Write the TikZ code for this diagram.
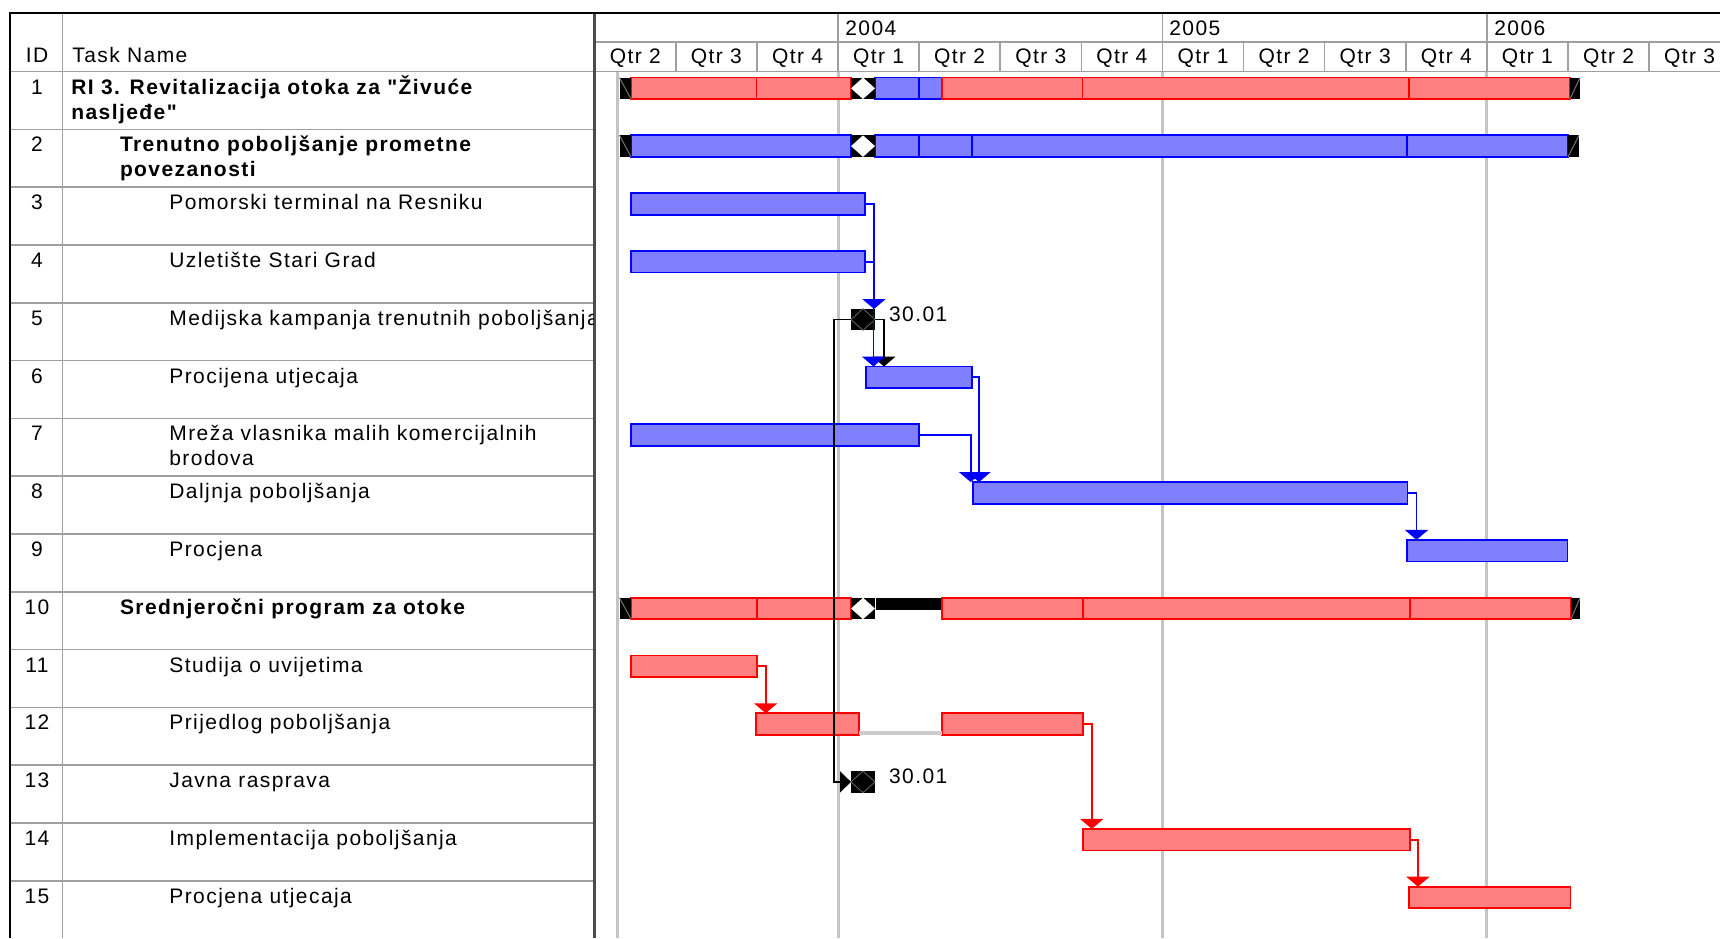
\documentclass[tikz,border=0pt]{standalone}
\usepackage{fontspec}
\setmainfont{Liberation Sans}[LetterSpace=6.8,Ligatures=TeXOff]
\usetikzlibrary{arrows.meta,calc}
\definecolor{barblue}{RGB}{0,0,255}
\definecolor{barbluefill}{RGB}{128,128,255}
\definecolor{barred}{RGB}{255,0,0}
\definecolor{barredfill}{RGB}{255,128,128}
\definecolor{gridgray}{RGB}{196,196,196}
\definecolor{rulegray}{RGB}{160,160,160}
\begin{document}
\begin{tikzpicture}[x=0.5pt,y=-0.5pt,
    txt/.style={anchor=base west,inner sep=0pt,font=\fontsize{10.5}{12}\selectfont},
    num/.style={anchor=base,inner sep=0pt,font=\fontsize{10.5}{12}\selectfont},
    wd/.style={minimum width=#1*0.5pt},
    bar/.style={line width=0.9pt,minimum height=10.75pt,inner sep=0pt,outer sep=0pt,anchor=west},
    bluebar/.style={bar,draw=barblue,fill=barbluefill},
    redbar/.style={bar,draw=barred,fill=barredfill},
    capbox/.style={fill=black,minimum height=10.75pt,inner sep=0pt,outer sep=0pt,anchor=west},
    mile/.style={fill=black,minimum width=12pt,minimum height=10.75pt,inner sep=0pt,outer sep=0pt},
    link/.style={line width=0.9pt,-{Triangle[width=11.5pt,length=5pt]}},
    bluelink/.style={link,barblue},
    redlink/.style={link,barred},
    blacklink/.style={line width=0.75pt,black,-{Triangle[width=11.5pt,length=5pt]}},
    gridline/.style={line width=1.5pt,gridgray},
    rule/.style={line width=0.8pt,rulegray}]
  \fill[white] (0,0) rectangle (1720,938);
  \useasboundingbox (0,0) rectangle (1720,938);

  % time scale grid
  \draw[gridline] (617.5,71.5) -- (617.5,938);
  \draw[gridline] (838,71.5) -- (838,938);
  \draw[gridline] (1162.4,71.5) -- (1162.4,938);
  \draw[gridline] (1486.8,71.5) -- (1486.8,938);

  % table rules
  \draw[rule] (10,71.5) -- (1720,71.5);
  \draw[rule] (594.5,42) -- (1720,42);
  \draw[rule] (10,129.3) -- (594.5,129.3);
  \draw[rule] (10,187.1) -- (594.5,187.1);
  \draw[rule] (10,244.9) -- (594.5,244.9);
  \draw[rule] (10,302.7) -- (594.5,302.7);
  \draw[rule] (10,360.5) -- (594.5,360.5);
  \draw[rule] (10,418.3) -- (594.5,418.3);
  \draw[rule] (10,476.1) -- (594.5,476.1);
  \draw[rule] (10,533.9) -- (594.5,533.9);
  \draw[rule] (10,591.7) -- (594.5,591.7);
  \draw[rule] (10,649.5) -- (594.5,649.5);
  \draw[rule] (10,707.3) -- (594.5,707.3);
  \draw[rule] (10,765.1) -- (594.5,765.1);
  \draw[rule] (10,822.9) -- (594.5,822.9);
  \draw[rule] (10,880.7) -- (594.5,880.7);
  \draw[rule] (62.5,13) -- (62.5,938);
  \draw[rule] (838,13) -- (838,71.5);
  \draw[rule] (1162.4,13) -- (1162.4,71.5);
  \draw[rule] (1486.8,13) -- (1486.8,71.5);
  \draw[rule] (675.8,42) -- (675.8,71.5);
  \draw[rule] (756.9,42) -- (756.9,71.5);
  \draw[rule] (919.1,42) -- (919.1,71.5);
  \draw[rule] (1000.2,42) -- (1000.2,71.5);
  \draw[rule] (1081.3,42) -- (1081.3,71.5);
  \draw[rule] (1243.5,42) -- (1243.5,71.5);
  \draw[rule] (1324.6,42) -- (1324.6,71.5);
  \draw[rule] (1405.7,42) -- (1405.7,71.5);
  \draw[rule] (1567.9,42) -- (1567.9,71.5);
  \draw[rule] (1649,42) -- (1649,71.5);
  \draw[line width=1.2pt,black!70] (594.5,13) -- (594.5,938);
  \draw[line width=1.3pt] (10,938) -- (10,13) -- (1720,13);

  % header
  \node[num] (hid) at (37,62) {ID};
  \node[txt] (hname) at (72,62) {Task Name};
  \node[txt] (y2004) at (845,35) {2004};
  \node[txt] (y2005) at (1169,35) {2005};
  \node[txt] (y2006) at (1494,35) {2006};
  \node[num] (q1) at (635.3,63) {Qtr 2};
  \node[num] (q2) at (716.4,63) {Qtr 3};
  \node[num] (q3) at (797.5,63) {Qtr 4};
  \node[num] (q4) at (878.6,63) {Qtr 1};
  \node[num] (q5) at (959.7,63) {Qtr 2};
  \node[num] (q6) at (1040.8,63) {Qtr 3};
  \node[num] (q7) at (1121.9,63) {Qtr 4};
  \node[num] (q8) at (1203,63) {Qtr 1};
  \node[num] (q9) at (1284.1,63) {Qtr 2};
  \node[num] (q10) at (1365.2,63) {Qtr 3};
  \node[num] (q11) at (1446.3,63) {Qtr 4};
  \node[num] (q12) at (1527.4,63) {Qtr 1};
  \node[num] (q13) at (1608.5,63) {Qtr 2};
  \node[num] (q14) at (1689.6,63) {Qtr 3};

  % task table
  \begin{scope}
    \clip (10,71.5) rectangle (593,938);
    \node[num] (i1) at (37,94) {1};
    \node[num] (i2) at (37,151.8) {2};
    \node[num] (i3) at (37,209.6) {3};
    \node[num] (i4) at (37,267.4) {4};
    \node[num] (i5) at (37,325.2) {5};
    \node[num] (i6) at (37,383) {6};
    \node[num] (i7) at (37,440.8) {7};
    \node[num] (i8) at (37,498.6) {8};
    \node[num] (i9) at (37,556.4) {9};
    \node[num] (i10) at (37,614.2) {10};
    \node[num] (i11) at (37,672) {11};
    \node[num] (i12) at (37,729.8) {12};
    \node[num] (i13) at (37,787.6) {13};
    \node[num] (i14) at (37,845.4) {14};
    \node[num] (i15) at (37,903.2) {15};
    \node[txt,font=\fontsize{10.5}{12}\selectfont\bfseries] (t1) at (71,94) {RI 3. Revitalizacija otoka za "Živuće};
    \node[txt,font=\fontsize{10.5}{12}\selectfont\bfseries] (t1b) at (71,119) {nasljeđe"};
    \node[txt,font=\fontsize{10.5}{12}\selectfont\bfseries] (t2) at (119.6,151.8) {Trenutno poboljšanje prometne};
    \node[txt,font=\fontsize{10.5}{12}\selectfont\bfseries] (t2b) at (119.6,176.8) {povezanosti};
    \node[txt] (t3) at (169,209.6) {Pomorski terminal na Resniku};
    \node[txt] (t4) at (169,267.4) {Uzletište Stari Grad};
    \node[txt] (t5) at (169,325.2) {Medijska kampanja trenutnih poboljšanja};
    \node[txt] (t6) at (169,383) {Procijena utjecaja};
    \node[txt] (t7) at (169,440.8) {Mreža vlasnika malih komercijalnih};
    \node[txt] (t7b) at (169,465.8) {brodova};
    \node[txt] (t8) at (169,498.6) {Daljnja poboljšanja};
    \node[txt] (t9) at (169,556.4) {Procjena};
    \node[txt,font=\fontsize{10.5}{12}\selectfont\bfseries] (t10) at (119.6,614.2) {Srednjeročni program za otoke};
    \node[txt] (t11) at (169,672) {Studija o uvijetima};
    \node[txt] (t12) at (169,729.8) {Prijedlog poboljšanja};
    \node[txt] (t13) at (169,787.6) {Javna rasprava};
    \node[txt] (t14) at (169,845.4) {Implementacija poboljšanja};
    \node[txt] (t15) at (169,903.2) {Procjena utjecaja};
  \end{scope}

  % summary bars
  \node[redbar,wd=125.5] (s1a) at (631,88.3) {};
  \node[redbar,wd=94.5] (s1b) at (756.5,88.3) {};
  \node[bluebar,wd=44] (s1c) at (875,88.3) {};
  \node[bluebar,wd=23] (s1d) at (919,88.3) {};
  \node[redbar,wd=140.5] (s1e) at (942,88.3) {};
  \node[redbar,wd=326.5] (s1f) at (1082.5,88.3) {};
  \node[redbar,wd=161] (s1g) at (1409,88.3) {};
  \node[capbox,wd=11.5] (c1l) at (619.5,88.3) {};
  \node[capbox,wd=10] (c1r) at (1570,88.3) {};
  \node[mile] (s1m) at (863,88.3) {};
  \node[bluebar,wd=220] (s2a) at (631,146.1) {};
  \node[bluebar,wd=44] (s2c) at (875,146.1) {};
  \node[bluebar,wd=53] (s2d) at (919,146.1) {};
  \node[bluebar,wd=435] (s2e) at (972,146.1) {};
  \node[bluebar,wd=161] (s2f) at (1407,146.1) {};
  \node[capbox,wd=11.5] (c2l) at (619.5,146.1) {};
  \node[capbox,wd=11] (c2r) at (1568,146.1) {};
  \node[mile] (s2m) at (863,146.1) {};
  \node[redbar,wd=125.7] (s10a) at (631,608.5) {};
  \node[redbar,wd=94.3] (s10b) at (756.7,608.5) {};
  \node[fill=black,wd=66,minimum height=6pt,inner sep=0pt,anchor=north west] (s10k) at (876,597.7) {};
  \node[redbar,wd=141] (s10e) at (942,608.5) {};
  \node[redbar,wd=326.6] (s10f) at (1083,608.5) {};
  \node[redbar,wd=161.4] (s10g) at (1409.6,608.5) {};
  \node[capbox,wd=11.5] (c10l) at (619.5,608.5) {};
  \node[capbox,wd=9] (c10r) at (1571,608.5) {};
  \node[mile] (s10m) at (863,608.5) {};
  \begin{scope}[line width=0.5pt,black!55]
    \draw (c1l.north west) -- (c1l.south east);
    \draw (c2l.north west) -- (c2l.south east);
    \draw (c10l.north west) -- (c10l.south east);
    \draw (c1r.south west) -- (c1r.north east);
    \draw (c2r.south west) -- (c2r.north east);
    \draw (c10r.south west) -- (c10r.north east);
  \end{scope}
  \fill[white] (s1m.north) -- (s1m.east) -- (s1m.south) -- (s1m.west) -- cycle;
  \fill[white] (s2m.north) -- (s2m.east) -- (s2m.south) -- (s2m.west) -- cycle;
  \fill[white] (s10m.north) -- (s10m.east) -- (s10m.south) -- (s10m.west) -- cycle;

  % task bars
  \node[bluebar,wd=234.6] (b3) at (630.7,203.9) {};
  \node[bluebar,wd=234.6] (b4) at (630.7,261.7) {};
  \node[bluebar,wd=105.7] (b6) at (866,377.3) {};
  \node[bluebar,wd=288.6] (b7) at (630.7,435.1) {};
  \node[bluebar,wd=434.8] (b8) at (972.7,492.9) {};
  \node[bluebar,wd=160.7] (b9) at (1406.7,550.7) {};
  \node[redbar,wd=126] (b11) at (630.7,666.3) {};
  \node[redbar,wd=102.7] (b12a) at (756,724.1) {};
  \node[redbar,wd=141] (b12b) at (942.3,724.1) {};
  \node[redbar,wd=326.7] (b14) at (1082.9,839.7) {};
  \node[redbar,wd=161.8] (b15) at (1408.6,897.5) {};
  \draw[line width=2pt,black!20] ($(b12a.south east)+(0,-2)$) -- ($(b12b.south west)+(0,-2)$);

  % milestones
  \node[mile] (m5) at (863,319.5) {};
  \node[mile] (m13) at (863,781.9) {};
  \draw[black!60,line width=0.4pt] (m5.north) -- (m5.east) -- (m5.south) -- (m5.west) -- cycle;
  \draw[black!60,line width=0.4pt] (m13.north) -- (m13.east) -- (m13.south) -- (m13.west) -- cycle;
  \node[txt] (d5) at (888.7,321) {30.01};
  \node[txt] (d13) at (888.7,783.5) {30.01};

  % links
  \coordinate (a5) at (874,309);
  \coordinate (a6) at (873.5,366.5);
  \coordinate (k6) at (884,366.5);
  \coordinate (j13) at (834,319.5);
  \coordinate (a8a) at (970.7,482.1);
  \coordinate (a8b) at (979,482.1);
  \coordinate (a9) at (1416.5,539.9);
  \coordinate (a12) at (765.7,713.3);
  \coordinate (a14) at (1091.8,828.9);
  \coordinate (a15) at (1417.9,886.7);
  \draw[blacklink] (m5.east) -| (k6);
  \draw[blacklink,-{Triangle[width=10.5pt,length=5.5pt]}] (m5.west) -- (j13) |- (m13.west);
  \draw[bluelink] (b3.east) -| (a5);
  \draw[bluelink] (b4.east) -| (a6);
  \draw[bluelink] (b6.east) -| (a8b);
  \draw[bluelink] (b7.east) -| (a8a);
  \draw[bluelink] (b8.east) -| (a9);
  \draw[redlink] (b11.east) -| (a12);
  \draw[redlink] (b12b.east) -| (a14);
  \draw[redlink] (b14.east) -| (a15);
\end{tikzpicture}
\end{document}
